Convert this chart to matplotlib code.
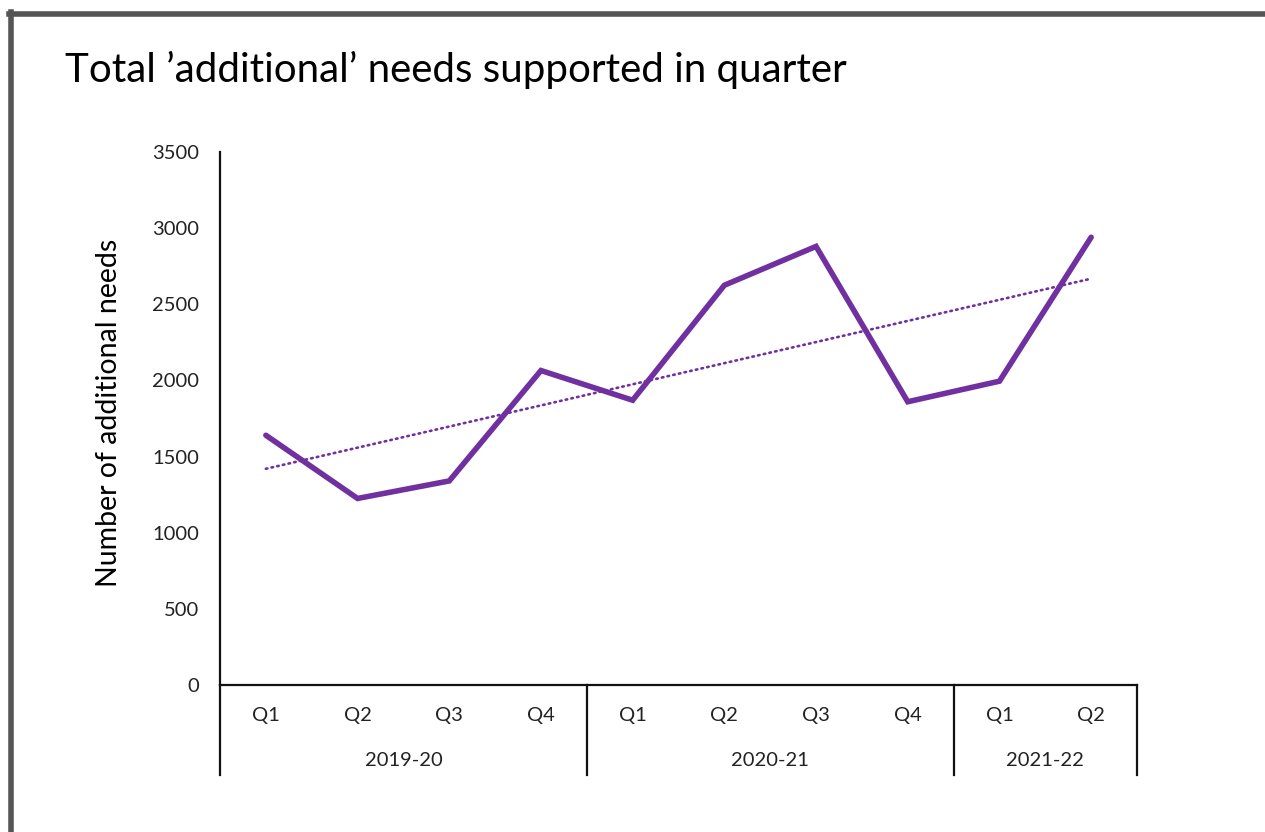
import numpy as np
import matplotlib.pyplot as plt
from matplotlib.lines import Line2D
import matplotlib.transforms as mtransforms

plt.rcParams['font.family'] = ['Lato', 'DejaVu Sans']

# data
quarters = ['Q1', 'Q2', 'Q3', 'Q4', 'Q1', 'Q2', 'Q3', 'Q4', 'Q1', 'Q2']
years = ['2019-20', '2020-21', '2021-22']
year_sizes = [4, 4, 2]
needs = [1640, 1225, 1340, 2065, 1870, 2625, 2880, 1860, 1995, 2940]

purple = '#7030A0'

fig = plt.figure(figsize=(12.65, 8.32), dpi=100)
W, H = 1265, 832
ax = fig.add_axes([220 / W, 1 - 685 / H, (1137 - 220) / W, (685 - 152) / H])

x = np.arange(len(needs))
ax.plot(x, needs, color=purple, lw=4, solid_joinstyle='miter', solid_capstyle='round')

# linear trendline
k, b = np.polyfit(x, needs, 1)
ax.plot(x, k * x + b, color=purple, lw=1.9, ls=(0, (0.6, 1.6)), dash_capstyle='round')

ax.set_xlim(-0.5, len(needs) - 0.5)
ax.set_ylim(0, 3500)
ax.set_yticks(np.arange(0, 3501, 500))
ax.tick_params(axis='y', length=0, labelsize=14.5, pad=15, labelcolor='#222222')
ax.set_xticks([])
for s in ['top', 'right']:
    ax.spines[s].set_visible(False)
for s in ['left', 'bottom']:
    ax.spines[s].set_linewidth(1.6)
    ax.spines[s].set_color('#111111')

# multi-level category axis
trans = mtransforms.blended_transform_factory(ax.transData, ax.transAxes)
ax_h = 685 - 152
for i, q in enumerate(quarters):
    ax.text(i, -(716 - 685) / ax_h, q, transform=trans, ha='center', va='center',
            fontsize=14.5, color='#222222')
edges = np.concatenate([[0], np.cumsum(year_sizes)]) - 0.5
for e in edges:
    ax.plot([e, e], [0, -(775 - 685) / ax_h], transform=trans, color='#111111',
            lw=1.6, clip_on=False)
for j, yr in enumerate(years):
    mid = (edges[j] + edges[j + 1]) / 2
    ax.text(mid, -(760 - 685) / ax_h, yr, transform=trans, ha='center', va='center',
            fontsize=14.5, color='#222222')

ax.set_ylabel('Number of additional needs', fontsize=20.5, labelpad=12)
ax.yaxis.set_label_coords(-(220 - 122) / (1137 - 220), (685 - 413) / ax_h)

fig.text(65 / W, 1 - 70 / H, "Total \u2019additional\u2019 needs supported in quarter",
         fontsize=29, va='center', ha='left')

# outer frame
fig.add_artist(Line2D([9 / W, 1], [1 - 14 / H, 1 - 14 / H], color='#555555', lw=4))
fig.add_artist(Line2D([11 / W, 11 / W], [0, 1 - 12 / H], color='#555555', lw=4))

fig.savefig('out.png', dpi=100)
